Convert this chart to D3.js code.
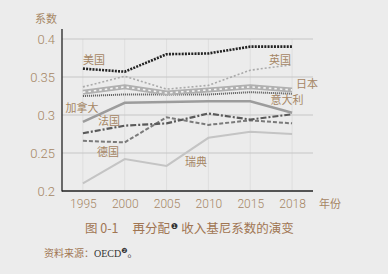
<!DOCTYPE html>
<html>
<head>
<meta charset="utf-8">
<script src="https://cdn.jsdelivr.net/npm/d3@7"></script>
<style>
  body { margin: 0; background: #ececec; }
  svg { display: block; }
  text { font-family: "Noto Sans CJK SC", "Noto Sans", sans-serif; }
</style>
</head>
<body>
<svg width="388" height="274"></svg>
<script>
const years = ["1995", "2000", "2005", "2010", "2015", "2018"];
const yTicks = [0.2, 0.25, 0.3, 0.35, 0.4];

const usa     = [0.361, 0.357, 0.380, 0.381, 0.390, 0.390];
const uk      = [0.337, 0.351, 0.334, 0.339, 0.359, 0.366];
const japan   = [0.330, 0.337, 0.329, 0.333, 0.337, 0.333];
const italy   = [0.325, 0.327, 0.327, 0.327, 0.330, 0.328];
const canada  = [0.291, 0.316, 0.317, 0.318, 0.318, 0.303];
const france  = [0.276, 0.286, 0.289, 0.302, 0.294, 0.301];
const germany = [0.266, 0.264, 0.297, 0.287, 0.293, 0.289];
const sweden  = [0.210, 0.242, 0.233, 0.270, 0.278, 0.275];

const series = [
    { name: "瑞典", values: sweden, color: "#c4c4c4", width: 2, dash: null, lx: 196, ly: 162 },
    { name: "德国", values: germany, color: "#7a7a7a", width: 2, dash: "4,2", lx: 108, ly: 152 },
    { name: "法国", values: france, color: "#5a5a5a", width: 2.2, dash: "6,2,2,2", lx: 109, ly: 121 },
    { name: "加拿大", values: canada, color: "#9c9c9c", width: 2.5, dash: null, lx: 82, ly: 108 },
    { name: "意大利", values: italy, color: "#555", width: 2, dash: "1,1", lx: 287, ly: 100 },
    { name: "日本", values: japan, color: "#b0b0b0", width: 5, dash: null, band: true, lx: 307, ly: 84 },
    { name: "英国", values: uk, color: "#aaaaaa", width: 1.6, dash: "2,2", lx: 280, ly: 60 },
    { name: "美国", values: usa, color: "#222", width: 2.6, dash: "2,1.2", lx: 94, ly: 60 }
];

const svg = d3.select("svg");
const textColor = "#a58664";

const x = d3.scalePoint().domain(years).range([62, 313]).padding(0.5);
const y = d3.scaleLinear().domain([0.2, 0.4]).range([191, 39]);

// grid
svg.append("g").selectAll("line.v")
    .data(years)
    .enter().append("line")
    .attr("x1", d => x(d)).attr("x2", d => x(d))
    .attr("y1", y(0.4)).attr("y2", y(0.2))
    .attr("stroke", "#dedede").attr("stroke-width", 1);

svg.append("g").selectAll("line.h")
    .data(yTicks.filter(d => d > 0.2))
    .enter().append("line")
    .attr("x1", 62).attr("x2", 313)
    .attr("y1", d => y(d)).attr("y2", d => y(d))
    .attr("stroke", "#c6c6c6").attr("stroke-width", 1);

// axes
const yAxis = svg.append("g")
    .attr("transform", "translate(62,0)")
    .call(d3.axisLeft(y).tickValues(yTicks).tickSize(0).tickPadding(7).tickFormat(d3.format("")));
yAxis.select(".domain").remove();
yAxis.selectAll("text")
    .attr("fill", textColor).attr("font-size", "13px").attr("font-weight", 300)
    .style("font-family", "Roboto, 'Noto Sans', sans-serif");

const xAxis = svg.append("g")
    .attr("transform", "translate(0,191)")
    .call(d3.axisBottom(x).tickSize(0).tickPadding(8));
xAxis.select(".domain").remove();
xAxis.selectAll("text")
    .attr("fill", textColor).attr("font-size", "12px").attr("font-weight", 300)
    .style("font-family", "Roboto, 'Noto Sans', sans-serif");

svg.append("line").attr("x1", 62).attr("x2", 62).attr("y1", 29).attr("y2", 191.5)
    .attr("stroke", "#222").attr("stroke-width", 1.3);
svg.append("line").attr("x1", 62).attr("x2", 313).attr("y1", 191).attr("y2", 191)
    .attr("stroke", "#222").attr("stroke-width", 1.3);

svg.append("text").attr("x", 46).attr("y", 23).attr("text-anchor", "middle")
    .attr("font-size", "11px").attr("fill", textColor).text("系数");
svg.append("text").attr("x", 330).attr("y", 208).attr("text-anchor", "middle")
    .attr("font-size", "11px").attr("fill", textColor).text("年份");

// lines
const line = d3.line()
    .x((d, i) => x(years[i]))
    .y(d => y(d));

const lineGroup = svg.append("g").attr("fill", "none");
series.forEach(s => {
    lineGroup.append("path")
        .attr("d", line(s.values))
        .attr("stroke", s.color)
        .attr("stroke-width", s.width)
        .attr("stroke-dasharray", s.dash);
    if (s.band) {
        lineGroup.append("path")
            .attr("d", line(s.values))
            .attr("stroke", "#f4f4f4")
            .attr("stroke-width", 1.6)
            .attr("stroke-dasharray", "2.5,3");
    }
});

// series labels
svg.append("g").selectAll("text")
    .data(series)
    .enter().append("text")
    .attr("x", d => d.lx).attr("y", d => d.ly + 4)
    .attr("text-anchor", "middle")
    .attr("font-size", "11px")
    .attr("fill", textColor)
    .text(d => d.name);

// caption
const cap = svg.append("text").attr("x", 85).attr("y", 233)
    .attr("font-size", "12.5px").attr("fill", "#a07552");
cap.append("tspan").text("图 0-1");
cap.append("tspan").attr("dx", 14).text("再分配");
cap.append("tspan").attr("dx", 1).attr("dy", -4).attr("font-size", "8px").attr("fill", "#333")
    .style("font-family", "DejaVu Sans").text("❶");
cap.append("tspan").attr("dx", 3).attr("dy", 4).text("收入基尼系数的演变");

const src = svg.append("text").attr("x", 44).attr("y", 257)
    .attr("font-size", "10px").attr("fill", "#a07552");
src.append("tspan").text("资料来源：");
src.append("tspan").attr("fill", "#333").style("font-family", "'Liberation Serif', serif").text("OECD");
src.append("tspan").attr("dy", -4).attr("font-size", "7px").attr("fill", "#333")
    .style("font-family", "DejaVu Sans").text("❷");
src.append("tspan").attr("dy", 4).attr("fill", "#333").text("。");
</script>
</body>
</html>
